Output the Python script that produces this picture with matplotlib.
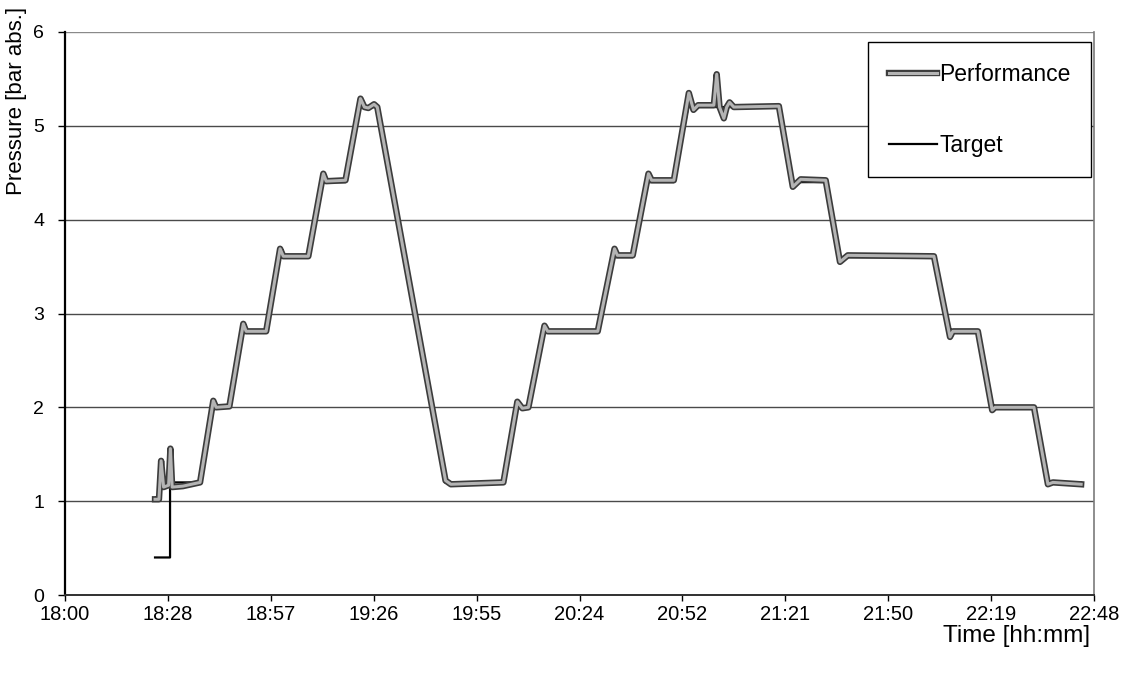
import matplotlib
matplotlib.use("Agg")
import matplotlib.pyplot as plt
import matplotlib.patheffects as pe
import numpy as np

plt.rcParams["font.family"] = ["Liberation Sans", "DejaVu Sans"]

# Time axis in minutes after 18:00
tick_minutes = [0, 28.8, 57.6, 86.4, 115.2, 144.0, 172.8, 201.6, 230.4, 259.2, 288.0]
tick_labels = ["18:00", "18:28", "18:57", "19:26", "19:55", "20:24",
               "20:52", "21:21", "21:50", "22:19", "22:48"]

# Measured pressure
perf_time = [25.2, 26.3, 26.9, 27.6, 29.0, 29.5, 30.0, 33.0, 37.8,
             41.5, 42.3, 46.0, 49.9, 50.7, 56.3, 60.2, 61.1, 68.1,
             72.3, 73.1, 78.5, 82.7, 83.8, 84.9, 86.5, 87.4, 106.5, 108.0,
             122.7, 126.6, 128.0, 129.7, 134.2, 135.1, 149.1, 153.8, 154.6,
             158.9, 163.3, 164.2, 170.4, 174.6, 175.9, 177.2, 181.6, 182.4,
             183.2, 184.4, 185.2, 186.0, 187.2, 199.8, 203.7, 205.9, 212.9,
             216.9, 219.1, 243.2, 247.7, 248.5, 255.5, 259.5, 260.3, 271.2,
             275.1, 276.5, 284.4]
perf_value = [1.02, 1.02, 1.43, 1.15, 1.17, 1.56, 1.15, 1.16, 1.20,
              2.07, 2.00, 2.01, 2.89, 2.81, 2.81, 3.69, 3.61, 3.61,
              4.49, 4.41, 4.42, 5.29, 5.20, 5.19, 5.23, 5.20, 1.22, 1.18,
              1.20, 2.06, 1.99, 2.00, 2.87, 2.81, 2.81, 3.69, 3.62,
              3.62, 4.49, 4.42, 4.42, 5.35, 5.17, 5.22, 5.22, 5.55,
              5.20, 5.08, 5.20, 5.25, 5.20, 5.21, 4.35, 4.43, 4.42,
              3.55, 3.62, 3.61, 2.75, 2.81, 2.81, 1.97, 2.00, 2.00,
              1.18, 1.20, 1.18]

# Set point
target_time = [25.2, 29.4, 29.4, 37.8, 41.3, 46.0, 49.7, 56.3, 60.0, 68.1,
               72.1, 78.5, 82.5, 87.4, 106.3, 122.7, 126.4, 129.7, 134.0,
               149.1, 153.6, 158.9, 163.1, 170.4, 174.4, 199.8, 203.5, 212.9,
               216.7, 243.2, 247.5, 255.5, 259.3, 271.2, 274.9, 284.4]
target_value = [0.4, 0.4, 1.2, 1.2, 2.0, 2.0, 2.8, 2.8, 3.6, 3.6,
                4.4, 4.4, 5.2, 5.2, 1.2, 1.2, 2.0, 2.0, 2.8,
                2.8, 3.6, 3.6, 4.4, 4.4, 5.2, 5.2, 4.4, 4.4,
                3.6, 3.6, 2.8, 2.8, 2.0, 2.0, 1.2, 1.2]

fig = plt.figure(figsize=(11.3, 6.84), dpi=100)
ax = fig.add_axes([65 / 1130, 1 - 595 / 684, (1094 - 65) / 1130, (595 - 32) / 684])

ax.set_xlim(0, 288)
ax.set_ylim(0, 6)

# Horizontal grid
for v in range(1, 7):
    ax.axhline(v, color="#4a4a4a" if v < 6 else "#8a8a8a", lw=1.0, zorder=1)

target_line, = ax.plot(target_time, target_value, color="black", lw=1.6,
                       zorder=2, label="Target")
perf_line, = ax.plot(perf_time, perf_value, color="#b4b4b4", lw=2.2, zorder=3,
                     label="Performance")
perf_line.set_path_effects([pe.Stroke(linewidth=4.6, foreground="#3c3c3c"),
                            pe.Normal()])

ax.set_xticks(tick_minutes)
ax.set_xticklabels(tick_labels)
ax.set_yticks(range(0, 7))

ax.spines["top"].set_visible(False)
ax.spines["right"].set_color("#7a7a7a")
ax.spines["right"].set_linewidth(1.2)
ax.spines["left"].set_linewidth(1.6)
ax.spines["bottom"].set_linewidth(1.4)
ax.spines["bottom"].set_color("#303030")

ax.tick_params(axis="x", direction="out", length=4, width=1.0, pad=3.5,
               labelsize=14.5)
ax.tick_params(axis="y", direction="out", length=5, width=1.0, pad=10,
               labelsize=14)

leg = ax.legend([perf_line, target_line], ["Performance", "Target"],
                loc="upper left",
                bbox_to_anchor=(868 / 1130, 1 - 42 / 684),
                bbox_transform=fig.transFigure,
                fancybox=False, shadow=False, framealpha=1,
                edgecolor="black", fontsize=16.5,
                borderpad=0.9, labelspacing=2.1, handlelength=2.1,
                handletextpad=0.1, borderaxespad=0)
leg.get_frame().set_linewidth(1.0)
leg.set_zorder(5)

fig.text(17 / 1130, 1 - 101 / 684, "Pressure [bar abs.]", rotation=90,
         ha="center", va="center", fontsize=16)
fig.text(1090 / 1130, 1 - 636 / 684, "Time [hh:mm]", ha="right",
         va="center", fontsize=17.5)

fig.savefig("out.png", dpi=100, facecolor="white")
